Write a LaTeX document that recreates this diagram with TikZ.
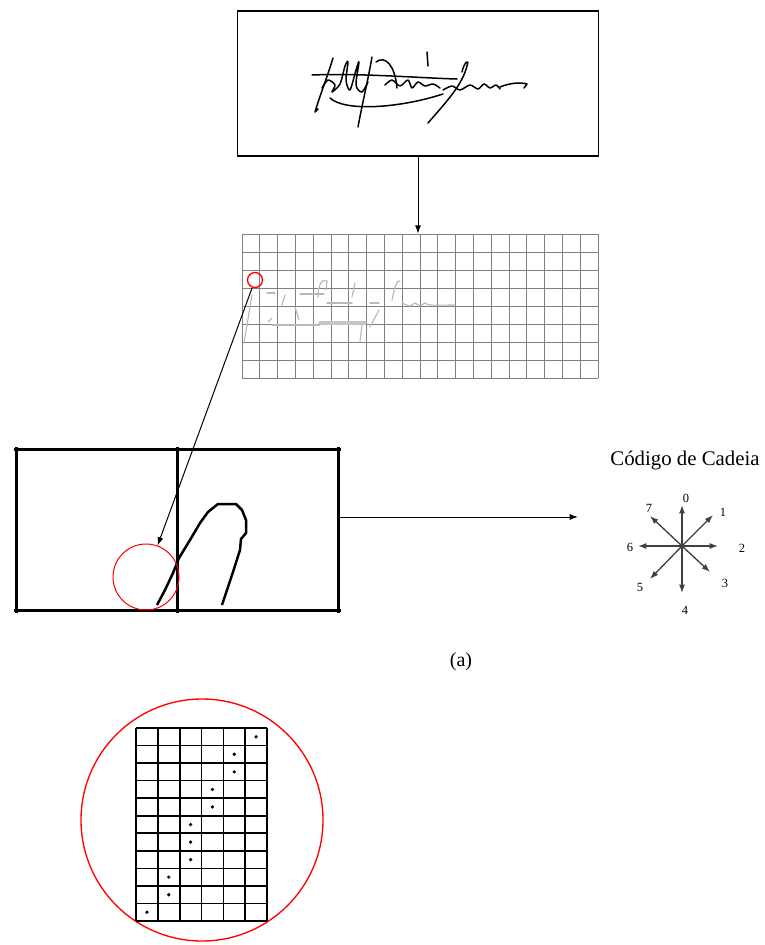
\documentclass[tikz,border=0pt]{standalone}
\usepackage{fontspec}
\setmainfont{Liberation Serif}
\usepackage{tikz}
\usetikzlibrary{arrows.meta}

\begin{document}
\begin{tikzpicture}[x=0.6pt, y=-0.6pt,
    seta/.style={-{Latex[length=5pt,width=3.6pt]}, line width=0.6pt},
    borda/.style={line width=1.8pt, shorten <=-1.5pt, shorten >=-1.5pt},
    traco/.style={line width=0.9pt, line cap=round, line join=round},
    fraco/.style={gray!55, line width=0.7pt, line cap=round}]
      \useasboundingbox (0,0) rectangle (765,945);

      % Define coordinates
      \coordinate (centro) at (682,546);
      \coordinate (fim) at (578,517);

      % Draw the signature box
      \node[draw, line width=1.1pt, minimum width=216.6pt, minimum height=87pt, inner sep=0pt] (assinatura) at (418,83.5) {};
      \draw[traco] (333,58) .. controls (328,75) and (320,95) .. (315,112) -- (318,109);
      \draw[traco] (312,75) .. controls (360,73) and (420,78) .. (457,79);
      \draw[traco] plot[smooth] coordinates {(322,88) (328,80) (335,85) (332,92) (340,84) (345,66) (348,62) (346,80) (350,90) (356,70) (359,62) (356,85) (362,92) (368,82)};
      \draw[traco] (372,57) .. controls (368,80) and (362,105) .. (358,127);
      \draw[traco] (376,62) .. controls (385,55) and (395,65) .. (397,88);
      \draw[traco] plot[smooth] coordinates {(385,85) (392,80) (400,86) (408,80) (412,88) (418,82) (425,86) (433,84) (440,88)};
      \draw[traco] (427,52) -- (428,66);
      \draw[traco] (462,72) .. controls (464,62) and (470,58) .. (467,66) .. controls (462,85) and (448,100) .. (428,123);
      \draw[traco] (330,98) .. controls (345,112) and (400,108) .. (443,94);
      \draw[traco] plot[smooth] coordinates {(443,90) (452,86) (460,90) (470,85) (478,89) (484,84) (490,88) (496,85) (500,89)};
      \draw[traco] (500,87) .. controls (510,83) and (520,82) .. (527,84) -- (524,88);

      % Draw the grid with the faded signature
      \node[minimum width=213.6pt, minimum height=86.4pt, inner sep=0pt] (grade) at (420,306) {};
      \foreach \i in {0,...,20}
        \draw[gray, line width=0.6pt] ({242+17.8*\i},234) -- ({242+17.8*\i},378);
      \foreach \j in {0,...,8}
        \draw[gray, line width=0.6pt] (242,{234+18*\j}) -- (598,{234+18*\j});
      \draw[fraco] (267,293) -- (275,293);
      \draw[fraco] (300,294) -- (324,294);
      \draw[fraco] (318,297) .. controls (318,285) and (322,278) .. (327,281) -- (326,290);
      \draw[fraco] (327,303) -- (352,303);
      \draw[fraco] (355,283) -- (352,297);
      \draw[fraco] (370,303) -- (379,303);
      \draw[fraco] plot[smooth] coordinates {(402,303) (410,306) (415,303) (420,306) (425,303) (430,305) (455,305)};
      \draw[fraco, line width=2pt, gray!45] (320,323) -- (365,323);
      \draw[fraco] (272,325) -- (320,325);
      \draw[fraco] (392,300) .. controls (395,285) and (397,280) .. (400,281);
      \draw[fraco] (379,310) -- (370,327);
      \draw[fraco] (362,325) -- (360,342);
      \draw[fraco] (252,295) -- (244,343);
      \draw[fraco] (285,295) -- (282,305);
      \draw[fraco] (295,307) -- (299,320);
      \draw[fraco] (268,322) -- (272,318);
      \node[draw=red, circle, line width=0.8pt, minimum size=9pt, inner sep=0pt] (lupa) at (255,280) {};

      % Draw branch from the signature to the grid
      \draw[seta] (assinatura.south) -- (assinatura.south |- grade.north);

      % Draw the enlarged window
      \node[minimum width=193.2pt, minimum height=96pt, inner sep=0pt] (janela) at (177.5,530) {};
      \draw[borda] (janela.north west) -- (janela.north east);
      \draw[borda] (janela.south west) -- (janela.south east);
      \draw[borda] (janela.north west) -- (janela.south west);
      \draw[borda] (janela.north east) -- (janela.south east);
      \draw[borda] (janela.north) -- (janela.south);
      \draw[line width=1.5pt, line join=round] (157,605) -- (165,590) -- (173,573) -- (179,558) -- (190,540) -- (200,523) -- (208,512) -- (218,504) -- (236,504) -- (242,510) -- (246,520) -- (246,533) -- (241,539) -- (240,550) -- (233,572) -- (222,605);
      \node[draw=red, circle, minimum size=39.6pt, inner sep=0pt, line width=0.6pt] (circulo) at (146,577) {};
      \draw[seta] (lupa) -- (circulo);
      \draw[seta] (janela.east |- fim) -- (fim);

      % Draw the chain code
      \node[font=\fontsize{12.5}{15}\selectfont] (titulo) at (685,460) {Código de Cadeia};
      \foreach \d/\dx/\dy/\lx/\ly in {0/0/-41/4/-48, 1/31/-31/41/-34, 2/36/0/60/2, 3/28/26/43/37, 4/0/47/3/64, 5/-32/33/-42/41, 6/-44/0/-52/1, 7/-32/-30/-33/-38} {
        \draw[-{Latex[length=5pt,width=3.6pt]}, black!75, line width=0.8pt] (centro) -- ++(\dx,\dy);
        \node[font=\fontsize{7.5}{9}\selectfont, inner sep=0pt] (rot\d) at ([shift={(\lx,\ly)}]centro) {\d};
      }

      \node[font=\fontsize{12}{14}\selectfont] (legenda) at (461,662) {(a)};

      % Draw the magnified pixels
      \node[draw=red, circle, minimum size=145.2pt, inner sep=0pt, line width=0.8pt] (detalhe) at (202,820) {};
      \foreach \i in {0,...,6}
        \draw[line width=1pt] ({136+131/6*\i},728) -- ({136+131/6*\i},921);
      \foreach \j in {0,...,11}
        \draw[line width=1pt] (136,{728+193/11*\j}) -- (267,{728+193/11*\j});
      \foreach \c/\r in {6/1, 5/2, 5/3, 4/4, 4/5, 3/6, 3/7, 3/8, 2/9, 2/10, 1/11}
        \fill ({136+131/6*(\c-0.5)},{728+193/11*(\r-0.5)}) circle[radius=1.1pt];
    \end{tikzpicture}
\end{document}
